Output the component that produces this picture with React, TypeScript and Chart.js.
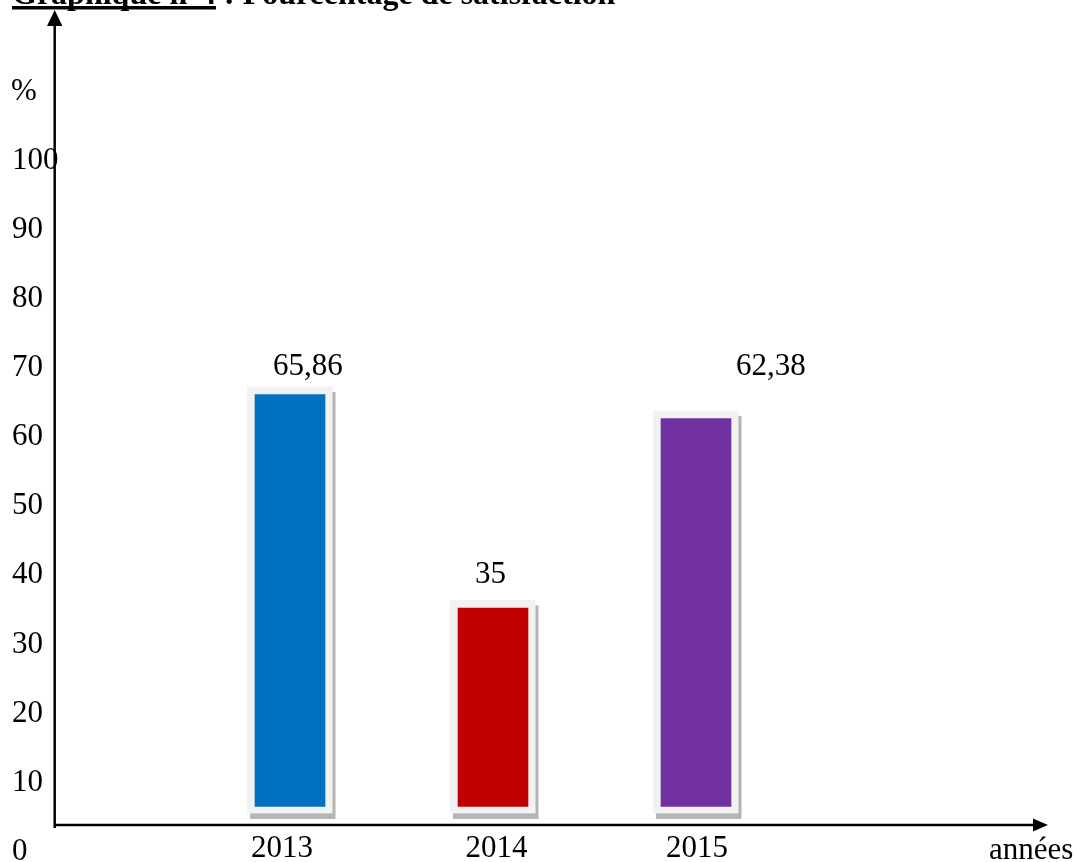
import React, { useEffect, useRef } from "react";
import { Chart, registerables } from "chart.js";

Chart.register(...registerables);

const categories = ["2013", "2014", "2015"];
const satisfaction = [65.86, 35, 62.38];
const valueLabels = ["65,86", "35", "62,38"];
const barColors = ["#0070C0", "#C00000", "#7030A0"];
const yTickValues = [0, 10, 20, 30, 40, 50, 60, 70, 80, 90, 100];
const yTickLabels = ["0", "10", "20", "30", "40", "50", "60", "70", "80", "90", "100"];
const yAxisTitle = "%";
const xAxisTitle = "années";
const titleUnderlined = "Graphique n°4";
const titleRest = " : Pourcentage de satisfaction";

const SERIF = '"Liberation Serif", "Times New Roman", serif';

const decorPlugin = {
  id: "decor",
  beforeDatasetsDraw(chart: any) {
    const ctx = chart.ctx;
    const meta = chart.getDatasetMeta(0);
    ctx.save();
    meta.data.forEach((bar: any) => {
      const half = bar.width / 2;
      const left = bar.x - half - 8;
      const right = bar.x + half + 7.5;
      const top = bar.y - 8;
      const bottom = bar.base + 7;
      // shadow
      ctx.fillStyle = "#B4B4B4";
      ctx.fillRect(left + 3, top + 5.5, right - left, bottom - top);
      // frame
      ctx.fillStyle = "#F2F2F2";
      ctx.fillRect(left, top, right - left, bottom - top);
    });
    ctx.restore();
  },
  afterDraw(chart: any) {
    const ctx = chart.ctx;
    const y = chart.scales.y;
    const x = chart.scales.x;
    const meta = chart.getDatasetMeta(0);
    ctx.save();

    // Title
    ctx.fillStyle = "#000";
    ctx.font = `bold 32px ${SERIF}`;
    ctx.textBaseline = "alphabetic";
    ctx.textAlign = "left";
    ctx.fillText(titleUnderlined, 12, 4);
    const w1 = ctx.measureText(titleUnderlined).width;
    ctx.fillText(titleRest, 12 + w1, 4);
    ctx.fillRect(12, 6, w1, 3.5);

    // Axes
    const axisY = y.getPixelForValue(3.6);
    ctx.strokeStyle = "#000";
    ctx.lineWidth = 2.5;
    ctx.beginPath();
    ctx.moveTo(54.7, axisY + 3);
    ctx.lineTo(54.7, 22);
    ctx.stroke();
    ctx.beginPath();
    ctx.moveTo(54, axisY);
    ctx.lineTo(1038, axisY);
    ctx.stroke();
    // arrowheads
    ctx.fillStyle = "#000";
    ctx.beginPath();
    ctx.moveTo(54.7, 10);
    ctx.lineTo(47, 26);
    ctx.lineTo(62.4, 26);
    ctx.closePath();
    ctx.fill();
    ctx.beginPath();
    ctx.moveTo(1048, axisY);
    ctx.lineTo(1033, axisY - 6.5);
    ctx.lineTo(1033, axisY + 6.5);
    ctx.closePath();
    ctx.fill();

    // Y tick labels
    ctx.font = `31px ${SERIF}`;
    ctx.textAlign = "left";
    ctx.textBaseline = "alphabetic";
    yTickValues.forEach((v, i) => {
      ctx.fillText(yTickLabels[i], 12, y.getPixelForValue(v) + 10);
    });
    ctx.fillText(yAxisTitle, 11, 100);
    ctx.fillText(xAxisTitle, 989, 859);

    // Category labels
    const catDx = [-8, 3.5, 1];
    ctx.textAlign = "center";
    categories.forEach((c, i) => {
      ctx.fillText(c, x.getPixelForValue(i) + catDx[i], 857);
    });

    // Value labels
    const valDx = [-17, -18, 40];
    const valDy = [-19.6, -25, -43.6];
    ctx.textAlign = "left";
    meta.data.forEach((bar: any, i: number) => {
      ctx.fillText(valueLabels[i], bar.x + valDx[i], bar.y + valDy[i]);
    });

    ctx.restore();
  },
};

export default function App() {
  const ref = useRef<HTMLCanvasElement | null>(null);
  useEffect(() => {
    if (!ref.current) return;
    const chart = new Chart(ref.current, {
      type: "bar",
      data: {
        labels: categories,
        datasets: [
          {
            data: satisfaction,
            backgroundColor: barColors,
            borderWidth: 0,
            barThickness: 70,
            base: 6.3,
          } as any,
        ],
      },
      options: {
        animation: false,
        responsive: false,
        events: [],
        layout: { padding: { left: 188.5, right: 279.5, top: 20.2, bottom: 12 } },
        scales: {
          x: { type: "category", display: false, offset: true },
          y: { display: false, min: 0, max: 120 },
        },
        plugins: {
          legend: { display: false },
          tooltip: { enabled: false },
          title: { display: false },
        },
      },
      plugins: [decorPlugin],
    });
    return () => chart.destroy();
  }, []);
  return (
    <div style={{ position: "fixed", left: 0, top: 0, width: 1077, height: 862, background: "#fff" }}>
      <canvas ref={ref} width={1077} height={862} style={{ display: "block" }} />
    </div>
  );
}
